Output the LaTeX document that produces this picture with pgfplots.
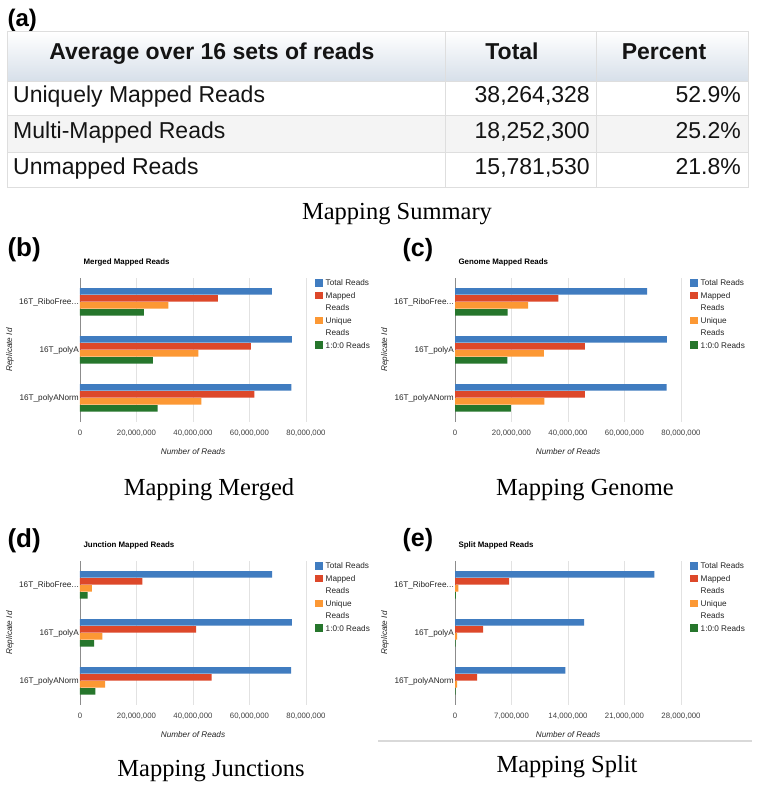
\documentclass[border=0pt]{standalone}
\usepackage{pgfplots}
\pgfplotsset{compat=1.18}
\usepackage{pgfplotstable}
\usepackage{fontspec}
\setmainfont{Liberation Sans}
\newfontfamily\capfont{Liberation Serif}

\definecolor{cTotal}{RGB}{64,124,192}
\definecolor{cMapped}{RGB}{221,72,42}
\definecolor{cUnique}{RGB}{252,152,52}
\definecolor{cOne}{RGB}{38,118,44}
\definecolor{gridc}{RGB}{226,226,226}
\definecolor{tline}{RGB}{222,222,222}
\definecolor{hdrbot}{RGB}{214,223,233}
\definecolor{rowalt}{RGB}{244,244,244}

\newcommand{\ribo}{16T\_RiboFree.\kern0.2pt.\kern0.2pt.}

% y: 2 = 16T_RiboFree..., 1 = 16T_polyA, 0 = 16T_polyANorm
\pgfplotstableread{
y total mapped unique one
2 67900000 48800000 31300000 22600000
1 75000000 60500000 41900000 25800000
0 74800000 61700000 43000000 27500000
}\datamerged
\pgfplotstableread{
y total mapped unique one
2 68000000 36600000 25900000 18600000
1 75000000 46000000 31500000 18500000
0 74900000 46000000 31600000 19800000
}\datagenome
\pgfplotstableread{
y total mapped unique one
2 68000000 22100000 4200000 2700000
1 75000000 41100000 7900000 5000000
0 74700000 46600000 8900000 5400000
}\datajunction
\pgfplotstableread{
y total mapped unique one
2 24700000 6690000 420000 120000
1 16000000 3490000 250000 80000
0 13670000 2740000 250000 80000
}\datasplit

\pgfplotsset{
  readsaxis/.style={
    scale only axis, width=226pt, height=144pt,
    xbar, bar width=6.5pt,
    xmin=0, ymin=-0.5, ymax=2.5,
    ytick={0,1,2},
    yticklabels={16T\_polyANorm,16T\_polyA,\ribo},
    axis lines*=left, axis line style={-},
    x axis line style={draw=none},
    y axis line style={draw=black!45},
    major tick length=0pt,
    xmajorgrids, major grid style={gridc, line width=0.8pt},
    scaled x ticks=false,
    xticklabel style={/pgf/number format/fixed, /pgf/number format/1000 sep={,},
      /pgf/number format/assume math mode=true,
      font=\fontsize{7.8}{9}\selectfont, text=black!75, yshift=-4.5pt},
    yticklabel style={font=\fontsize{8.2}{10}\selectfont, text=black!85, inner xsep=1pt},
    ylabel={Replicate Id}, xlabel={Number of Reads},
    every axis y label/.style={at={(rel axis cs:0,0.5)}, anchor=center, xshift=-70pt, rotate=90,
      font=\fontsize{8.2}{10}\selectfont\itshape, text=black!85},
    every axis x label/.style={at={(rel axis cs:0.5,0)}, anchor=center,
      yshift=-30pt, font=\fontsize{8.2}{10}\selectfont\itshape, text=black!85},
    title style={at={(0,1)}, anchor=base west, yshift=7pt,
      font=\bfseries\fontsize{7.9}{9}\selectfont},
    legend style={at={(1,1)}, anchor=north west, xshift=9pt, yshift=-1pt, draw=none, fill=none,
      inner sep=0pt, row sep=4.6pt, font=\fontsize{8.2}{11}\selectfont, text=black!85,
      cells={anchor=base west},
      nodes={inner xsep=3pt, inner ysep=0pt, text height=6pt, text depth=1.5pt}},
    legend image code/.code={\fill[##1] (0pt,-0.9pt) rectangle (7.5pt,6.6pt);},
  }
}

\begin{document}
\begin{tikzpicture}[x=1pt,y=1pt]
\path[use as bounding box, fill=white] (0,0) rectangle (756,790);

% ---------- (a) table ----------
\node[anchor=base west, font=\bfseries\fontsize{24}{28}\selectfont] at (4,763) {(a)};
\shade[top color=white, bottom color=hdrbot] (7,708) rectangle (748,758);
\fill[rowalt] (7,637) rectangle (748,674);
\draw[tline, line width=1pt] (7,602) rectangle (748,758);
\draw[tline, line width=1pt] (7,708) -- (748,708) (7,674) -- (748,674) (7,637) -- (748,637);
\draw[tline, line width=1pt] (445,602) -- (445,758) (596,602) -- (596,758);
\begin{scope}[font=\fontsize{23}{27}\selectfont, text=black!92]
\node[font=\bfseries\fontsize{23}{27}\selectfont, anchor=mid] at (212,733) {Average over 16 sets of reads};
\node[font=\bfseries\fontsize{23}{27}\selectfont, anchor=mid] at (512,733) {Total};
\node[font=\bfseries\fontsize{23}{27}\selectfont, anchor=mid] at (664,733) {Percent};
\node[anchor=mid west, inner sep=0pt] at (13,690) {Uniquely Mapped Reads};
\node[anchor=mid west, inner sep=0pt] at (13,654) {Multi-Mapped Reads};
\node[anchor=mid west, inner sep=0pt] at (13,618) {Unmapped Reads};
\node[anchor=mid east, inner sep=0pt] at (590,690) {38,264,328};
\node[anchor=mid east, inner sep=0pt] at (590,654) {18,252,300};
\node[anchor=mid east, inner sep=0pt] at (590,618) {15,781,530};
\node[anchor=mid east, inner sep=0pt] at (741,690) {52.9\%};
\node[anchor=mid east, inner sep=0pt] at (741,654) {25.2\%};
\node[anchor=mid east, inner sep=0pt] at (741,618) {21.8\%};
\end{scope}
\node[anchor=base, font=\capfont\fontsize{24.5}{28}\selectfont] at (397,570) {Mapping Summary};

% ---------- (b) ----------
\node[anchor=base west, font=\bfseries\fontsize{26}{30}\selectfont] at (4,533.5) {(b)};
\begin{axis}[readsaxis, at={(80pt,368pt)}, anchor=south west,
  xmax=80000000, xtick={0,20000000,40000000,60000000,80000000},
  title={Merged Mapped Reads}]
\addplot[fill=cTotal, draw=none, bar shift=10.5pt] table[x=total,y=y]{\datamerged};
\addlegendentry{Total Reads}
\addplot[fill=cMapped, draw=none, bar shift=3.5pt] table[x=mapped,y=y]{\datamerged};
\addlegendentry{Mapped}
\addlegendimage{empty legend}\addlegendentry{Reads}
\addplot[fill=cUnique, draw=none, bar shift=-3.5pt] table[x=unique,y=y]{\datamerged};
\addlegendentry{Unique}
\addlegendimage{empty legend}\addlegendentry{Reads}
\addplot[fill=cOne, draw=none, bar shift=-10.5pt] table[x=one,y=y]{\datamerged};
\addlegendentry{1:0:0 Reads}
\end{axis}
\node[anchor=base, font=\capfont\fontsize{24.5}{28}\selectfont] at (209,294) {Mapping Merged};

% ---------- (c) ----------
\node[anchor=base west, font=\bfseries\fontsize{25}{30}\selectfont] at (399,533.5) {(c)};
\begin{axis}[readsaxis, at={(455pt,368pt)}, anchor=south west,
  xmax=80000000, xtick={0,20000000,40000000,60000000,80000000},
  title={Genome Mapped Reads}]
\addplot[fill=cTotal, draw=none, bar shift=10.5pt] table[x=total,y=y]{\datagenome};
\addlegendentry{Total Reads}
\addplot[fill=cMapped, draw=none, bar shift=3.5pt] table[x=mapped,y=y]{\datagenome};
\addlegendentry{Mapped}
\addlegendimage{empty legend}\addlegendentry{Reads}
\addplot[fill=cUnique, draw=none, bar shift=-3.5pt] table[x=unique,y=y]{\datagenome};
\addlegendentry{Unique}
\addlegendimage{empty legend}\addlegendentry{Reads}
\addplot[fill=cOne, draw=none, bar shift=-10.5pt] table[x=one,y=y]{\datagenome};
\addlegendentry{1:0:0 Reads}
\end{axis}
\node[anchor=base, font=\capfont\fontsize{24.5}{28}\selectfont] at (585,294) {Mapping Genome};

% ---------- (d) ----------
\node[anchor=base west, font=\bfseries\fontsize{26}{30}\selectfont] at (4,242) {(d)};
\begin{axis}[readsaxis, at={(80pt,85pt)}, anchor=south west,
  xmax=80000000, xtick={0,20000000,40000000,60000000,80000000},
  title={Junction Mapped Reads}]
\addplot[fill=cTotal, draw=none, bar shift=10.5pt] table[x=total,y=y]{\datajunction};
\addlegendentry{Total Reads}
\addplot[fill=cMapped, draw=none, bar shift=3.5pt] table[x=mapped,y=y]{\datajunction};
\addlegendentry{Mapped}
\addlegendimage{empty legend}\addlegendentry{Reads}
\addplot[fill=cUnique, draw=none, bar shift=-3.5pt] table[x=unique,y=y]{\datajunction};
\addlegendentry{Unique}
\addlegendimage{empty legend}\addlegendentry{Reads}
\addplot[fill=cOne, draw=none, bar shift=-10.5pt] table[x=one,y=y]{\datajunction};
\addlegendentry{1:0:0 Reads}
\end{axis}
\node[anchor=base, font=\capfont\fontsize{24.5}{28}\selectfont] at (211,13) {Mapping Junctions};

% ---------- (e) ----------
\node[anchor=base west, font=\bfseries\fontsize{25}{30}\selectfont] at (399,243) {(e)};
\begin{axis}[readsaxis, at={(455pt,85pt)}, anchor=south west,
  xmax=28000000, xtick={0,7000000,14000000,21000000,28000000},
  title={Split Mapped Reads}]
\addplot[fill=cTotal, draw=none, bar shift=10.5pt] table[x=total,y=y]{\datasplit};
\addlegendentry{Total Reads}
\addplot[fill=cMapped, draw=none, bar shift=3.5pt] table[x=mapped,y=y]{\datasplit};
\addlegendentry{Mapped}
\addlegendimage{empty legend}\addlegendentry{Reads}
\addplot[fill=cUnique, draw=none, bar shift=-3.5pt] table[x=unique,y=y]{\datasplit};
\addlegendentry{Unique}
\addlegendimage{empty legend}\addlegendentry{Reads}
\addplot[fill=cOne, draw=none, bar shift=-10.5pt] table[x=one,y=y]{\datasplit};
\addlegendentry{1:0:0 Reads}
\end{axis}
\draw[black!15, line width=1.5pt] (378,49) -- (752,49);
\node[anchor=base, font=\capfont\fontsize{24.5}{28}\selectfont] at (567,17) {Mapping Split};
\end{tikzpicture}
\end{document}
